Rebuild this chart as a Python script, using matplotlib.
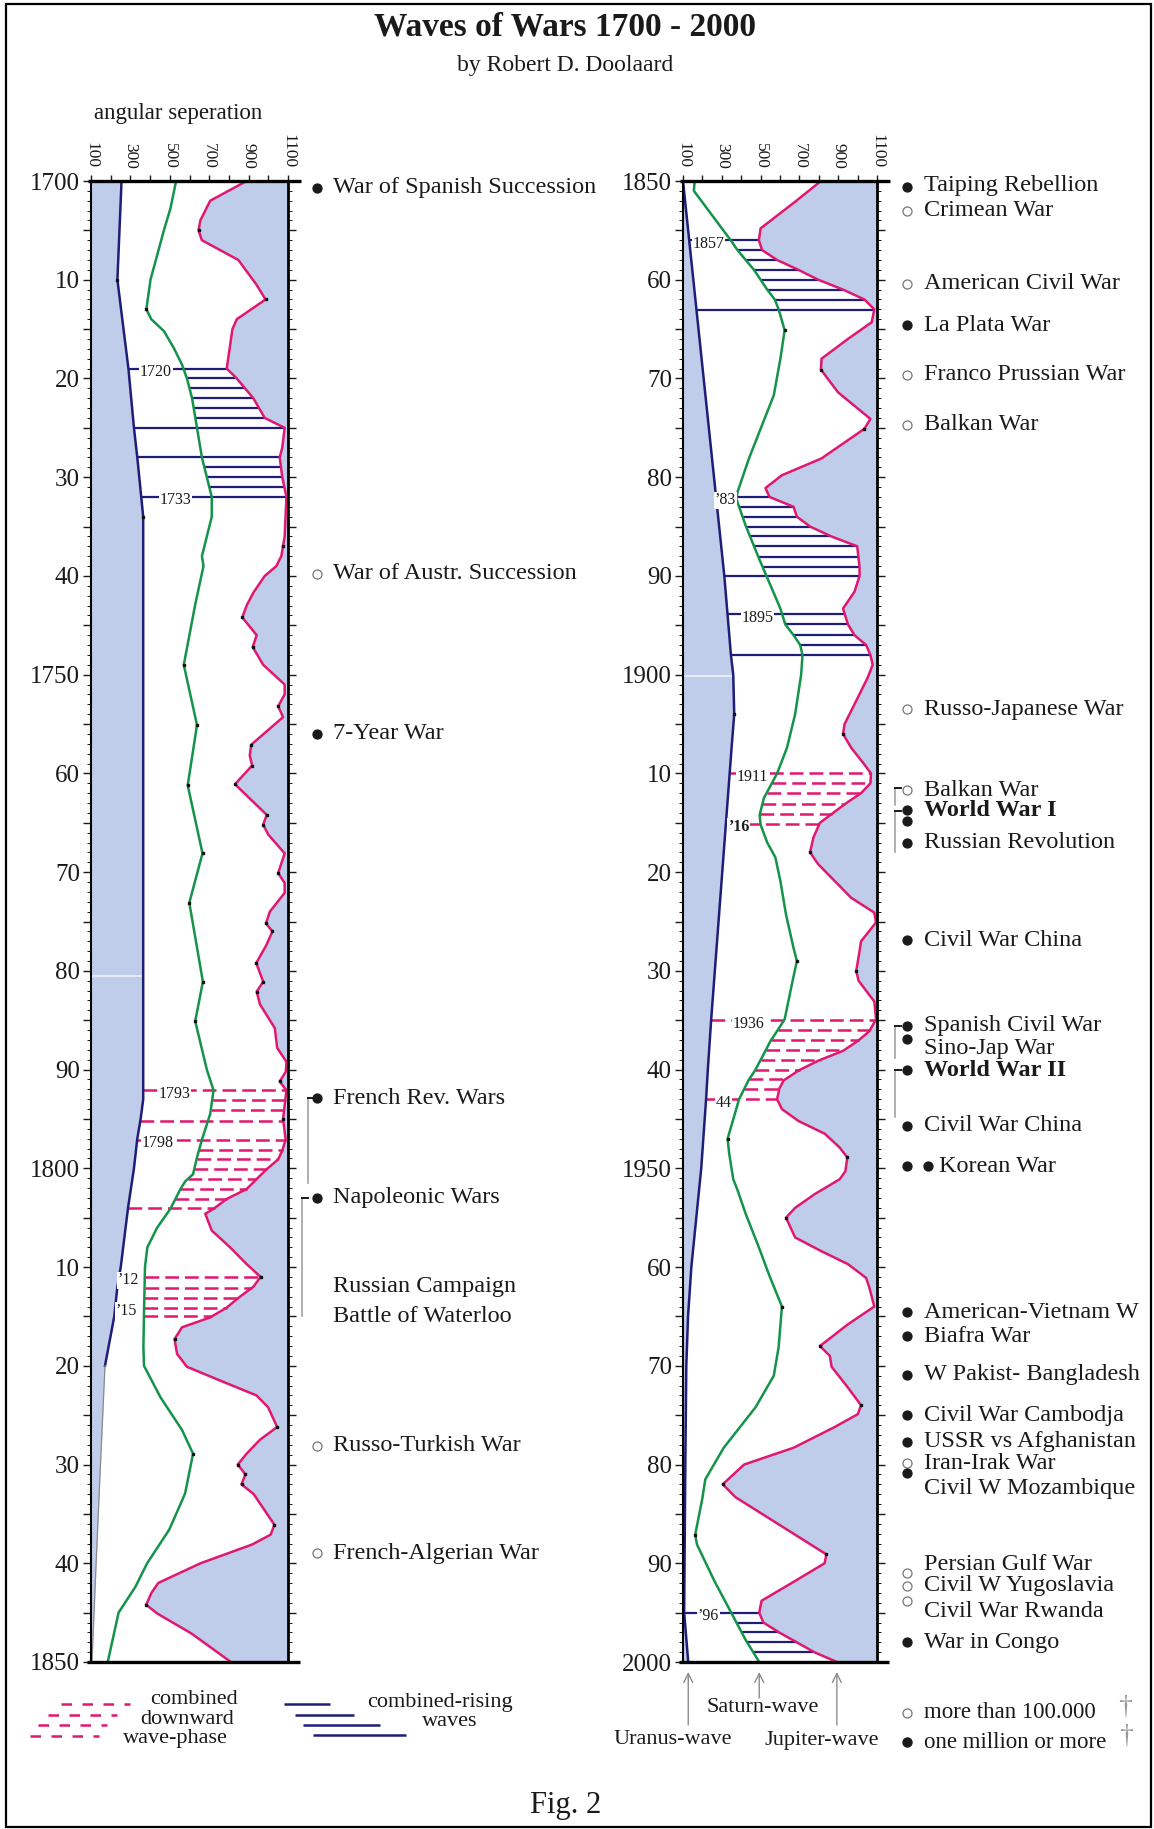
import numpy as np
import matplotlib
matplotlib.use("Agg")
import matplotlib.pyplot as plt
from matplotlib.transforms import blended_transform_factory
from matplotlib.lines import Line2D
from matplotlib.patches import Rectangle
from matplotlib.ticker import MultipleLocator, FixedLocator, FuncFormatter

# ---------------------------------------------------------------- data
x_ticks_major = [100, 300, 500, 700, 900, 1100]
x_ticks_minor = [200, 400, 600, 800, 1000]

# (year, angular separation)
left_uranus = [(1700, 255), (1710, 234), (1719, 290), (1725, 318), (1728, 335), (1732, 355),
               (1734, 365), (1793, 365), (1795, 352), (1797, 335), (1800, 318), (1804, 288),
               (1810, 251), (1812, 234), (1815, 218), (1820, 171)]
left_uranus_tail = [(1820, 171), (1830, 148), (1840, 126), (1850, 105)]

left_saturn = [(1700, 532), (1702.8, 503), (1705, 470), (1710, 402), (1713, 381), (1714, 406),
               (1715.2, 470), (1716.9, 520), (1718.6, 562), (1720, 587), (1722, 613), (1725, 638),
               (1728, 663), (1730, 688), (1732, 713), (1734, 713), (1738, 663), (1739, 671),
               (1742.9, 629), (1749, 571), (1755.1, 638), (1761.2, 591), (1768.1, 666),
               (1773.1, 599), (1781.1, 668), (1785.1, 629), (1790, 688), (1792.1, 722),
               (1794.5, 705), (1797.1, 663), (1798.9, 638), (1800.6, 618), (1801.3, 579),
               (1802.1, 554), (1804.1, 503), (1806, 436), (1808, 386), (1810, 374),
               (1814.7, 369), (1818.1, 366), (1820, 369), (1823.2, 453), (1826.5, 562),
               (1828.9, 618), (1832.9, 578), (1834.2, 550), (1836.6, 497), (1840, 385),
               (1842.4, 325), (1845, 240), (1850, 185)]

left_jupiter = [(1700, 890), (1702, 705), (1704, 655), (1705, 646), (1706, 663), (1708, 848),
                (1710.5, 940), (1712, 986), (1714, 840), (1715, 818), (1719, 789), (1720, 840),
                (1722, 924), (1724, 982), (1725, 1083), (1727, 1071), (1728, 1058), (1730, 1071),
                (1732, 1092), (1736, 1083), (1738, 1066), (1739, 1041), (1740, 982),
                (1741.7, 924), (1743, 890), (1744.2, 868), (1746, 941), (1747.2, 921),
                (1749, 974), (1751, 1083), (1752, 1083), (1753.2, 1050), (1754.3, 1075),
                (1757.1, 913), (1758.2, 906), (1759.2, 918), (1761.1, 831), (1764.2, 992),
                (1765.2, 974), (1766.2, 1000), (1768.1, 1083), (1770.1, 1050), (1771.1, 1083),
                (1772.1, 1083), (1774, 1008), (1775.2, 988), (1776, 1021), (1777.4, 990),
                (1779.2, 939), (1781.1, 974), (1782.1, 941), (1783.4, 958), (1785.8, 1033),
                (1787.8, 1045), (1789.2, 1092), (1790.2, 1089), (1791.2, 1058), (1792.1, 1092),
                (1795, 1075), (1797.1, 1088), (1798.2, 1071), (1799.1, 1050), (1800.1, 991),
                (1801.1, 940), (1802.1, 890), (1803.1, 789), (1804.1, 722), (1804.6, 680),
                (1806.3, 713), (1808, 806), (1809.7, 890), (1811, 961), (1812, 924),
                (1813, 856), (1814.1, 789), (1815.1, 705), (1816.1, 562), (1817.3, 524),
                (1818.8, 537), (1820.1, 587), (1821.5, 756), (1823, 940), (1824.2, 999),
                (1826.2, 1045), (1827.5, 957), (1828.9, 890), (1830, 845), (1831, 884),
                (1832, 864), (1833, 926), (1836.1, 1031), (1837.1, 1012), (1838.1, 918),
                (1840, 656), (1842, 441), (1843, 407), (1844.2, 380), (1845.1, 437),
                (1847.1, 609), (1850, 810)]

right_uranus = [(1850, 100), (1890, 313), (1898, 347), (1900, 359), (1904, 364), (1907, 352),
                (1935, 245), (1940, 228), (1943, 219), (1950, 194), (1960, 143), (1965, 126),
                (1970, 117), (1980, 112), (1995, 106), (2000, 127)]

right_saturn = [(1850, 160), (1851, 156), (1856, 346), (1857, 381), (1858, 423), (1859, 466),
                (1860, 500), (1861, 534), (1862, 573), (1863, 593), (1865.1, 624), (1868, 602),
                (1871.7, 568), (1874.7, 508), (1878.1, 440), (1881.5, 381), (1882.2, 375),
                (1884.9, 423), (1888.2, 491), (1893.3, 602), (1894.9, 627), (1896, 670),
                (1897, 704), (1898, 716), (1900, 709), (1904, 678), (1907.4, 636), (1910, 585),
                (1912.5, 517), (1914.2, 495), (1915.2, 500), (1917, 534), (1918.5, 576),
                (1920.9, 602), (1924.3, 631), (1927.7, 670), (1929, 687), (1931, 665),
                (1934.9, 624), (1936.1, 585), (1937.1, 551), (1938.1, 525), (1940.1, 471),
                (1941, 440), (1943, 389), (1947, 330), (1948.5, 338), (1951.1, 359),
                (1952.2, 381), (1954.6, 423), (1958, 491), (1960.7, 542), (1964, 610),
                (1968.1, 593), (1971, 568), (1974.2, 474), (1978.3, 310), (1981.5, 215),
                (1983.4, 200), (1987.1, 163), (1988.1, 172), (1991.8, 262), (1994.8, 343),
                (1997.8, 424), (2000, 493)]

right_jupiter = [(1850, 811), (1852.1, 678), (1854.8, 500), (1856, 491), (1857, 508), (1858, 585),
                 (1859, 695), (1860, 797), (1861, 925), (1862, 1035), (1863, 1086), (1864.3, 1073),
                 (1866, 950), (1868, 814), (1869.1, 811), (1871.4, 899), (1874.1, 1066),
                 (1875.1, 1035), (1878.1, 814), (1879.8, 610), (1881.1, 525), (1882, 546),
                 (1883, 670), (1884, 687), (1885, 755), (1886, 865), (1887, 998), (1889.1, 1010),
                 (1890, 1010), (1891.6, 984), (1893.3, 925), (1894.9, 950), (1896, 984),
                 (1897, 1044), (1898, 1066), (1899, 1078), (1900.3, 1052), (1903, 984),
                 (1905, 933), (1906, 925), (1907.4, 967), (1909.1, 1035), (1910, 1069),
                 (1911, 1066), (1912, 1018), (1913, 942), (1914, 874), (1915, 806),
                 (1916.5, 772), (1918, 755), (1919.2, 797), (1922.6, 967), (1924.1, 1086),
                 (1925.1, 1095), (1927, 1018), (1928, 1010), (1930, 993), (1931, 1005),
                 (1933.1, 1086), (1934.9, 1095), (1936.1, 1061), (1937.1, 1001), (1938.1, 925),
                 (1939.1, 797), (1940.1, 695), (1941.1, 619), (1941.9, 597), (1943, 585),
                 (1944, 610), (1945.2, 695), (1946.5, 831), (1947.9, 908), (1948.9, 947),
                 (1950.3, 937), (1951.1, 908), (1952.6, 780), (1954, 678), (1955, 631),
                 (1957, 678), (1958.4, 814), (1959.7, 950), (1961.1, 1044), (1962.1, 1061),
                 (1964, 1086), (1965.8, 950), (1968, 806), (1969, 857), (1970.1, 866),
                 (1972.2, 950), (1974, 1018), (1974.9, 1001), (1976.2, 882), (1978.3, 670),
                 (1980, 415), (1982, 305), (1983.3, 370), (1989.1, 839), (1990, 830),
                 (1991.8, 677), (1993.8, 505), (1995, 493), (1996, 514), (1997, 595),
                 (1998, 686), (1999, 776), (2000, 893)]

# small black vertex dots (years)
left_uranus_dots = [1710, 1734]
left_saturn_dots = [1713, 1749, 1755.1, 1761.2, 1768.1, 1773.1, 1781.1, 1785.1, 1828.9]
left_jupiter_dots = [1705, 1712, 1737, 1744.2, 1747.2, 1753.2, 1757.1, 1759.2, 1761.1, 1764.2,
                     1765.2, 1770.1, 1775.2, 1776, 1779.2, 1781.1, 1782.1, 1791.2, 1795, 1811,
                     1817.3, 1826.2, 1830, 1831, 1832, 1836.1, 1844.2]
right_uranus_dots = [1904]
right_saturn_dots = [1865.1, 1929, 1947, 1964, 1987.1]
right_jupiter_dots = [1869.1, 1875.1, 1906, 1918, 1930, 1948.9, 1955, 1968, 1974, 1982, 1989.1]

# combined-rising waves (navy) and combined downward wave-phase (pink dashed)
left_rise_years = [1719, 1720, 1721, 1722, 1723, 1724, 1725, 1728, 1729, 1730, 1731, 1732]
left_rise_from = ['U', 'S', 'S', 'S', 'S', 'S', 'U', 'U', 'S', 'S', 'S', 'U']
left_rise_labels = [(1719, "1720", 430, False), (1732, "1733", 530, False)]

left_fall_years = [1792.1, 1793.1, 1794.1, 1795.2, 1797.1, 1798.1, 1799.1, 1800.1, 1801.1,
                   1802.1, 1803.1, 1804.0, 1811.0, 1812.1, 1813.1, 1814.1, 1815.0]
left_fall_from = ['U', 'S', 'S', 'U', 'U', 'S', 'S', 'S', 'S', 'S', 'S', 'U', 'S', 'S', 'S', 'S', 'S']
left_fall_labels = [(1792.1, "1793", 525, False), (1797.1, "1798", 440, False),
                    (1811.0, "\u201912", 290, False), (1814.1, "\u201915", 280, False)]

right_rise_years = [1856, 1857, 1858, 1859, 1860, 1861, 1862.1, 1863.1,
                    1882, 1883, 1884, 1885, 1886, 1887, 1888.1, 1889.1, 1890,
                    1893.9, 1894.9, 1896, 1897, 1898,
                    1995, 1996, 1997, 1998, 1999]
right_rise_from = ['U', 'S', 'S', 'S', 'S', 'S', 'S', 'U',
                   'U', 'S', 'S', 'S', 'S', 'S', 'S', 'S', 'U',
                   'U', 'S', 'S', 'S', 'U',
                   'U', 'S', 'S', 'S', 'S']
right_rise_labels = [(1856, "1857", 232, False), (1882, "\u201983", 318, False),
                     (1893.9, "1895", 483, False), (1995, "\u201996", 232, False)]

right_fall_years = [1910, 1911, 1912, 1913.1, 1914.1, 1915.1,
                    1935, 1936, 1937, 1938, 1939, 1940, 1941, 1942, 1943]
right_fall_from = ['U', 'S', 'S', 'S', 'S', 'U',
                   'U', 'S', 'S', 'S', 'S', 'S', 'S', 'S', 'U']
right_fall_labels = [(1910, "1911", 458, False), (1915.1, "\u201916", 385, True),
                     (1935, "1936", 436, False), (1943, "44", 308, False)]

# wars
left_event_labels = ["War of Spanish Succession", "War of Austr. Succession", "7-Year War",
                     "French Rev. Wars", "Napoleonic Wars", "Russian Campaign",
                     "Battle of Waterloo", "Russo-Turkish War", "French-Algerian War"]
left_event_years = [1700.7, 1739.8, 1756.0, 1792.9, 1803.0, 1812.0, 1815.0, 1828.1, 1839.0]
left_event_bold = [False] * 9
left_bullet_years = [1700.7, 1739.8, 1756.0, 1792.9, 1803.0, 1828.1, 1839.0]
left_bullet_filled = [True, False, True, True, True, False, False]
left_brackets = [(1792.9, 1801.5, 308), (1803.0, 1815.0, 302)]

right_event_labels = ["Taiping Rebellion", "Crimean War", "American Civil War", "La Plata War",
                      "Franco Prussian War", "Balkan War", "Russo-Japanese War", "Balkan War",
                      "World War I", "Russian Revolution", "Civil War China", "Spanish Civil War",
                      "Sino-Jap War", "World War II", "Civil War China", "Korean War",
                      "American-Vietnam W", "Biafra War", "W Pakist- Bangladesh",
                      "Civil War Cambodja", "USSR vs Afghanistan", "Iran-Irak War",
                      "Civil W Mozambique", "Persian Gulf War", "Civil W Yugoslavia",
                      "Civil War Rwanda", "War in Congo"]
right_event_years = [1850.5, 1853.0, 1860.4, 1864.6, 1869.6, 1874.7, 1903.5, 1911.7, 1913.8,
                     1917.0, 1926.9, 1935.5, 1937.9, 1940.1, 1945.7, 1949.8, 1964.6, 1967.0,
                     1970.9, 1975.0, 1977.7, 1979.9, 1982.4, 1990.1, 1992.3, 1994.9, 1998.0]
right_event_bold = [lab in ("World War I", "World War II") for lab in right_event_labels]
right_event_indent = [15 if lab == "Korean War" else 0 for lab in right_event_labels]
right_bullet_years = [1850.6, 1853.0, 1860.4, 1864.6, 1869.6, 1874.7, 1903.5, 1911.7, 1913.7,
                      1914.8, 1917.0, 1926.9, 1935.6, 1936.9, 1940.0, 1945.7, 1949.8, 1949.8,
                      1964.6, 1967.0, 1970.9, 1975.0, 1977.7, 1979.8, 1980.9, 1991.0, 1992.3,
                      1993.8, 1998.0]
right_bullet_filled = [True, False, False, True, False, False, False, False, True,
                       True, True, True, True, True, True, True, True, True,
                       True, True, True, True, True, False, True, False, False,
                       False, True]
right_bullet_shift = [0] * 17 + [21] + [0] * 11
right_brackets = [(1911.5, 1913.2, 895), (1913.8, 1918.0, 895),
                  (1935.6, 1938.8, 895), (1940.0, 1944.8, 895)]

# ---------------------------------------------------------------- style
W, H = 1154, 1829
FILL = '#bfcdea'
NAVY = '#1f1d78'
GREEN = '#14934a'
PINK = '#e0186f'
INK = '#1a1a1a'
plt.rcParams['font.family'] = ['Liberation Serif', 'DejaVu Serif']

fig = plt.figure(figsize=(W / 100, H / 100), dpi=100)
fig.patch.set_facecolor('white')


def fx(px):
    return px / W


def fy(py):
    return 1 - py / H


def arr(pts):
    a = np.array(pts, dtype=float)
    return a[:, 0], a[:, 1]


def year_fmt(v, pos):
    y = int(round(v))
    if y % 10:
        return ''
    return str(y) if y % 50 == 0 else str(y % 100)


def setup_axes(ax, y_top, y_bot):
    ax.set_xlim(100, 1100)
    ax.set_ylim(y_bot, y_top)
    ax.set_facecolor('white')
    ax.xaxis.set_ticks_position('top')
    ax.xaxis.set_major_locator(FixedLocator(x_ticks_major))
    ax.xaxis.set_minor_locator(FixedLocator(x_ticks_minor))
    ax.xaxis.set_major_formatter(FuncFormatter(lambda v, p: f'{int(v)}'))
    ax.tick_params(axis='x', which='both', top=True, bottom=False, labeltop=True,
                   labelbottom=False, direction='out', length=4, width=1, labelsize=12.5,
                   pad=5, labelrotation=-90, colors=INK)
    ax.yaxis.set_major_locator(MultipleLocator(5))
    ax.yaxis.set_minor_locator(MultipleLocator(1))
    ax.yaxis.set_major_formatter(FuncFormatter(year_fmt))
    ax.tick_params(axis='y', which='major', left=True, right=True, direction='out',
                   length=6, width=1.0, labelsize=18, pad=2, colors=INK)
    ax.tick_params(axis='y', which='minor', left=True, right=True, direction='out',
                   length=3, width=0.7, colors=INK)
    for s in ('top', 'bottom'):
        ax.spines[s].set_visible(False)
    ax.spines['left'].set_linewidth(1.5)
    ax.spines['right'].set_linewidth(2.0)
    for s in ('left', 'right'):
        ax.spines[s].set_zorder(7)
    ax.plot([85, 1165], [y_top, y_top], color='black', lw=2.4, clip_on=False, zorder=8,
            solid_capstyle='butt')
    ax.plot([80, 1160], [y_bot, y_bot], color='black', lw=2.4, clip_on=False, zorder=8,
            solid_capstyle='butt')


def draw_panel(ax, y_top, y_bot, uranus, saturn, jupiter, tail,
               rise, fall, dots, artifact_year):
    setup_axes(ax, y_top, y_bot)
    uy, ux = arr(uranus)
    sy, sx = arr(saturn)
    jy, jx = arr(jupiter)
    fill_y, fill_x = uy, ux
    if tail is not None:
        ty, tx = arr(tail)
        fill_y = np.concatenate([uy, ty[1:]])
        fill_x = np.concatenate([ux, tx[1:]])
    ax.fill_betweenx(fill_y, 100, fill_x, color=FILL, lw=0, zorder=1)
    ax.fill_betweenx(jy, jx, 1100, color=FILL, lw=0, zorder=1)
    if artifact_year is not None:
        ax.plot([100, np.interp(artifact_year, fill_y, fill_x) - 3], [artifact_year] * 2,
                color='white', lw=1.1, alpha=0.8, zorder=1.5)

    # hatch lines
    for (years, starts, labels), color, dashed in ((rise, NAVY, False), (fall, PINK, True)):
        for yr, st in zip(years, starts):
            x0 = np.interp(yr, uy, ux) if st == 'U' else np.interp(yr, sy, sx)
            x1 = np.interp(yr, jy, jx)
            if dashed:
                ax.plot([x0, x1], [yr, yr], color=color, lw=1.8, dashes=(5.5, 2.4),
                        dash_capstyle='butt', zorder=2)
            else:
                ax.plot([x0, x1], [yr, yr], color=color, lw=1.6, solid_capstyle='butt',
                        zorder=2)
        for yr, text, xc, bold in labels:
            ax.text(xc, yr + 0.35, text, ha='center', va='center', fontsize=11.5,
                    color=INK, fontweight='bold' if bold else 'normal', zorder=4,
                    bbox=dict(facecolor='white', edgecolor='none', pad=0.6))

    # wave lines
    ax.plot(ux, uy, color=NAVY, lw=1.8, zorder=3, solid_joinstyle='round')
    if tail is not None:
        ty, tx = arr(tail)
        ax.plot(tx, ty, color='#8a8a8a', lw=0.9, zorder=3)
    ax.plot(sx, sy, color=GREEN, lw=1.8, zorder=3, solid_joinstyle='round')
    ax.plot(jx, jy, color=PINK, lw=1.8, zorder=3, solid_joinstyle='round')

    # vertex dots
    for yrs, (cy, cx) in zip(dots, ((uy, ux), (sy, sx), (jy, jx))):
        yrs = np.array(yrs, dtype=float)
        ax.plot(np.interp(yrs, cy, cx), yrs, ls='none', marker='s', ms=1.6,
                color='#111111', zorder=5)


def draw_events(ax, labels, years, bold, indent, text_px, b_years, b_filled, b_shift,
                bullet_px, brackets):
    tr = blended_transform_factory(fig.transFigure, ax.transData)
    for lab, yr, b, ind in zip(labels, years, bold, indent):
        ax.text(fx(text_px + ind), yr, lab, transform=tr, ha='left', va='center',
                fontsize=17.5, color=INK, fontweight='bold' if b else 'normal',
                clip_on=False)
    for yr, f, sh in zip(b_years, b_filled, b_shift):
        ax.plot([fx(bullet_px + sh)], [yr], transform=tr, ls='none', marker='o', ms=6.5,
                mfc=INK if f else 'white', mec=INK if f else '#777777', mew=0.9,
                clip_on=False, zorder=6)
    for y0, y1, bx in brackets:
        ax.plot([fx(bx), fx(bx)], [y0, y1], transform=tr, color='#9a9a9a', lw=1.1,
                clip_on=False)
        ax.plot([fx(bx), fx(bx + 6)], [y0, y0], transform=tr, color=INK, lw=1.4,
                clip_on=False)


# ---------------------------------------------------------------- axes
ax_l = fig.add_axes([fx(91), fy(1662), fx(288) - fx(91), fy(181) - fy(1662)])
ax_r = fig.add_axes([fx(683), fy(1662), fx(877) - fx(683), fy(181) - fy(1662)])

draw_panel(ax_l, 1700, 1850, left_uranus, left_saturn, left_jupiter, left_uranus_tail,
           (left_rise_years, left_rise_from, left_rise_labels),
           (left_fall_years, left_fall_from, left_fall_labels),
           (left_uranus_dots, left_saturn_dots, left_jupiter_dots), 1780.5)
draw_panel(ax_r, 1850, 2000, right_uranus, right_saturn, right_jupiter, None,
           (right_rise_years, right_rise_from, right_rise_labels),
           (right_fall_years, right_fall_from, right_fall_labels),
           (right_uranus_dots, right_saturn_dots, right_jupiter_dots), 1900.1)

draw_events(ax_l, left_event_labels, left_event_years, left_event_bold,
            [0] * len(left_event_labels), 333, left_bullet_years, left_bullet_filled,
            [0] * len(left_bullet_years), 317, left_brackets)
draw_events(ax_r, right_event_labels, right_event_years, right_event_bold,
            right_event_indent, 924, right_bullet_years, right_bullet_filled,
            right_bullet_shift, 907, right_brackets)

# ---------------------------------------------------------------- texts
fig.text(fx(565), fy(27), 'Waves of Wars 1700 - 2000', ha='center', va='center',
         fontsize=24, fontweight='bold', color=INK)
fig.text(fx(565), fy(66), 'by Robert D. Doolaard', ha='center', va='center',
         fontsize=17, color=INK)
fig.text(fx(178), fy(113), 'angular seperation', ha='center', va='center',
         fontsize=16.5, color=INK)
fig.text(fx(566), fy(1806), 'Fig. 2', ha='center', va='center', fontsize=22, color=INK)

# legend: combined downward wave-phase
for y, x0, x1 in ((1704, 61, 130), (1715, 48, 117), (1725, 38, 107), (1736, 30, 99)):
    fig.add_artist(Line2D([fx(x0), fx(x1)], [fy(y), fy(y)], transform=fig.transFigure,
                          color=PINK, lw=1.8, dashes=(4.2, 4.2), dash_capstyle='butt'))
for y, x0, x1 in ((1704, 284, 330), (1715, 295, 354), (1725, 303, 380), (1735, 313, 406)):
    fig.add_artist(Line2D([fx(x0), fx(x1)], [fy(y), fy(y)], transform=fig.transFigure,
                          color=NAVY, lw=1.8, solid_capstyle='butt'))
for txt, x, y in (('combined', 194, 1700), ('downward', 187, 1720), ('wave-phase', 175, 1738)):
    fig.text(fx(x), fy(y), txt, ha='center', va='center', fontsize=16, color=INK)
for txt, x, y in (('combined-rising', 440, 1703), ('waves', 450, 1722)):
    fig.text(fx(x), fy(y), txt, ha='center', va='center', fontsize=16, color=INK)

# arrows to the wave ends at 2000
tr_arrow = blended_transform_factory(ax_r.transData, fig.transFigure)
ends = [arr(right_uranus)[1][-1], arr(right_saturn)[1][-1], arr(right_jupiter)[1][-1]]
for xv, ybot in zip(ends, (1725, 1698, 1725)):
    ax_r.annotate('', xy=(xv, fy(1672)), xytext=(xv, fy(ybot)), xycoords=tr_arrow,
                  textcoords=tr_arrow, annotation_clip=False,
                  arrowprops=dict(arrowstyle='->', color='#8c8c8c', lw=1.0,
                                  mutation_scale=16, shrinkA=0, shrinkB=0))
fig.text(fx(763), fy(1708), 'Saturn-wave', ha='center', va='center', fontsize=16, color=INK)
fig.text(fx(673), fy(1740), 'Uranus-wave', ha='center', va='center', fontsize=16, color=INK)
fig.text(fx(822), fy(1740), 'Jupiter-wave', ha='center', va='center', fontsize=16, color=INK)

# legend: casualties
fig.add_artist(Line2D([fx(907)], [fy(1713)], transform=fig.transFigure, ls='none',
                      marker='o', ms=6.5, mfc='white', mec='#777777', mew=0.9))
fig.add_artist(Line2D([fx(907)], [fy(1742)], transform=fig.transFigure, ls='none',
                      marker='o', ms=6.5, mfc=INK, mec=INK))
fig.text(fx(924), fy(1713), 'more than 100.000', ha='left', va='center', fontsize=16.5,
         color=INK)
fig.text(fx(924), fy(1742), 'one million or more', ha='left', va='center', fontsize=16.5,
         color=INK)
fig.text(fx(1125), fy(1707), '\u2020', ha='center', va='center', fontsize=20, color='#9a9a9a')
fig.text(fx(1126), fy(1736), '\u2020', ha='center', va='center', fontsize=20, color='#9a9a9a')

# frame
fig.add_artist(Rectangle((fx(6), fy(1827)), fx(1151) - fx(6), fy(4) - fy(1827),
                         transform=fig.transFigure, fill=False, ec='black', lw=1.6))

fig.savefig('out.png', dpi=100, facecolor='white')
